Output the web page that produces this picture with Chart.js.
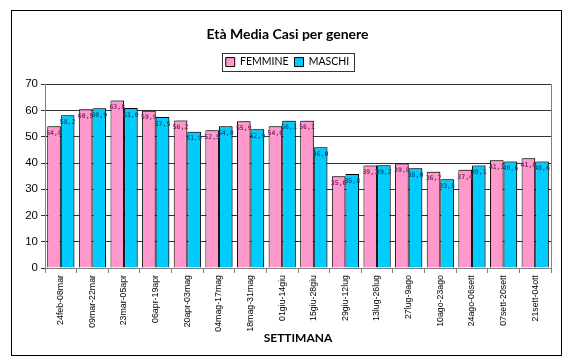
<!DOCTYPE html>
<html>
<head>
<meta charset="utf-8">
<script src="https://cdn.jsdelivr.net/npm/chart.js@4"></script>
<style>
  html, body { margin: 0; padding: 0; background: #fff; }
  #wrap { width: 567px; height: 361px; }
</style>
</head>
<body>
<div id="wrap"><canvas id="ageChart" width="567" height="361"></canvas></div>
<script>
// weeks (settimane) and mean age by gender
const weeks = [
  "24feb-08mar", "09mar-22mar", "23mar-05apr", "06apr-19apr",
  "20apr-03mag", "04mag-17mag", "18mag-31mag", "01giu-14giu",
  "15giu-28giu", "29giu-12lug", "13lug-26lug", "27lug-9ago",
  "10ago-23ago", "24ago-06sett", "07sett-20sett", "21sett-04ott",
];
const femmine = [54.0, 60.5, 63.8, 59.9, 56.2, 52.5, 55.9, 54.0, 56.1, 35.0, 39.1, 39.8, 36.7, 37.4, 41.1, 41.8];
const maschi = [58.2, 60.9, 61.0, 57.5, 51.9, 54.0, 52.9, 56.1, 46.0, 35.8, 39.2, 38.0, 33.8, 39.1, 40.6, 40.6];
const yTicks = [0, 10, 20, 30, 40, 50, 60, 70];

const labelColors = ["#7a2d6b", "#005a78"];

// frame around the whole chart and around the plot area
const framePlugin = {
  id: "frame",
  beforeDraw(chart) {
    const ctx = chart.ctx;
    ctx.save();
    ctx.fillStyle = "#fff";
    ctx.fillRect(0, 0, chart.width, chart.height);
    ctx.strokeStyle = "#000";
    ctx.lineWidth = 1;
    ctx.strokeRect(11.5, 10.5, 550, 345);
    ctx.restore();
  },
  afterDraw(chart) {
    const ctx = chart.ctx;
    const a = chart.chartArea;
    ctx.save();
    ctx.strokeStyle = "#808080";
    ctx.lineWidth = 1;
    ctx.beginPath();
    ctx.moveTo(Math.round(a.right) + 0.5, a.top);
    ctx.lineTo(Math.round(a.right) + 0.5, a.bottom);
    ctx.stroke();
    // legend border
    const boxes = chart.legend.legendHitBoxes;
    if (boxes && boxes.length) {
      let l = Infinity, r = -Infinity, t = Infinity, b = -Infinity;
      boxes.forEach((h) => {
        l = Math.min(l, h.left);
        r = Math.max(r, h.left + h.width);
        t = Math.min(t, h.top);
        b = Math.max(b, h.top + h.height);
      });
      ctx.strokeStyle = "#333";
      ctx.strokeRect(Math.round(l - 4) + 0.5, Math.round(t - 4) + 0.5, Math.round(r - l + 8), Math.round(b - t + 7));
    }
    ctx.restore();
  },
};

// shadow behind bars, value labels inside the top of each bar
const barPlugin = {
  id: "barValues",
  beforeDatasetsDraw(chart) {
    const ctx = chart.ctx;
    ctx.save();
    ctx.shadowColor = "rgba(0,0,0,0.3)";
    ctx.shadowOffsetX = 2;
    ctx.shadowOffsetY = -1;
    ctx.shadowBlur = 0;
  },
  afterDatasetsDraw(chart) {
    const ctx = chart.ctx;
    ctx.restore();
    ctx.save();
    ctx.font = 'bold 6.5px "DejaVu Sans Mono"';
    ctx.textAlign = "center";
    ctx.textBaseline = "middle";
    chart.data.datasets.forEach((ds, i) => {
      const meta = chart.getDatasetMeta(i);
      ctx.fillStyle = labelColors[i];
      meta.data.forEach((bar, j) => {
        const txt = ds.data[j].toFixed(1).replace(".", ",");
        ctx.fillText(txt, bar.x, bar.y + 7);
      });
    });
    ctx.restore();
  },
};

const ctx = document.getElementById("ageChart");
const chart = new Chart(ctx, {
  type: "bar",
  data: {
    labels: weeks,
    datasets: [
      {
        label: "FEMMINE",
        data: femmine,
        backgroundColor: "#ff99cc",
        borderColor: "#000",
        borderWidth: 1,
      },
      {
        label: "MASCHI",
        data: maschi,
        backgroundColor: "#00ccff",
        borderColor: "#000",
        borderWidth: 1,
      },
    ],
  },
  options: {
    responsive: false,
    animation: false,
    layout: {
      padding: { top: 26, left: 24, right: 16, bottom: 12 },
    },
    datasets: {
      bar: {
        categoryPercentage: 0.86,
        barPercentage: 1.0,
      },
    },
    plugins: {
      title: {
        display: true,
        text: "Età Media Casi per genere",
        color: "#000",
        font: { family: "Lato", size: 14, weight: "bold" },
        padding: { top: 0, bottom: 8 },
      },
      legend: {
        display: true,
        labels: {
          color: "#000",
          font: { family: "Lato", size: 10.5 },
          boxWidth: 9,
          boxHeight: 9,
          padding: 6,
        },
      },
      tooltip: { enabled: false },
    },
    scales: {
      x: {
        grid: {
          display: true,
          drawOnChartArea: false,
          color: "#808080",
          tickLength: 5,
        },
        border: { color: "#808080" },
        ticks: {
          color: "#000",
          font: { family: "Liberation Sans", size: 8.8 },
          minRotation: 90,
          maxRotation: 90,
          autoSkip: false,
          padding: 2,
        },
        title: {
          display: true,
          text: "SETTIMANA",
          color: "#000",
          font: { family: "Lato", size: 12, weight: "bold" },
          padding: { top: 4, bottom: 4 },
        },
        afterFit(scale) {
          scale.height = 81;
        },
      },
      y: {
        min: 0,
        max: 70,
        afterBuildTicks(scale) {
          scale.ticks = yTicks.map((v) => ({ value: v }));
        },
        grid: {
          color: "#333",
          tickLength: 4,
        },
        border: { color: "#808080" },
        ticks: {
          color: "#000",
          font: { family: "Liberation Sans", size: 11.5 },
          padding: 3,
        },
        afterFit(scale) {
          scale.width = 21;
        },
      },
    },
  },
  plugins: [framePlugin, barPlugin],
});

// leave a little more room under the legend, as in the original
const legendFit = chart.legend.fit;
chart.legend.fit = function () {
  legendFit.call(this);
  this.height += 7;
};
chart.update();
</script>
</body>
</html>
